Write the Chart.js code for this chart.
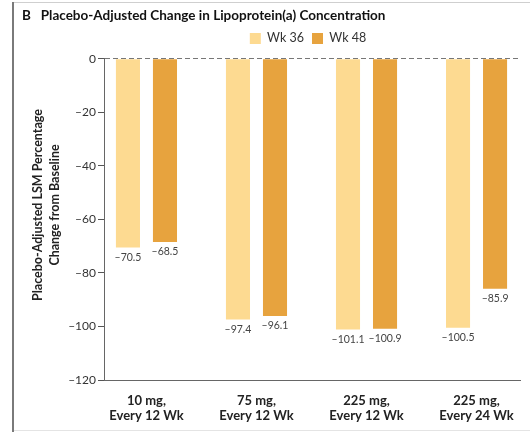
<!DOCTYPE html>
<html>
<head>
<meta charset="utf-8">
<script src="https://cdn.jsdelivr.net/npm/chart.js@4/dist/chart.umd.min.js"></script>
<style>
html,body{margin:0;padding:0;background:#fff;}
#wrap{width:530px;height:432px;position:relative;}
</style>
</head>
<body>
<div id="wrap"><canvas id="c" width="530" height="432"></canvas></div>
<script>
const categories = [
  ['10 mg,', 'Every 12 Wk'],
  ['75 mg,', 'Every 12 Wk'],
  ['225 mg,', 'Every 12 Wk'],
  ['225 mg,', 'Every 24 Wk']
];
const seriesNames = ['Wk 36', 'Wk 48'];
const wk36 = [-70.5, -97.4, -101.1, -100.5];
const wk48 = [-68.5, -96.1, -100.9, -85.9];
const yTickValues = [0, -20, -40, -60, -80, -100, -120];
const titleText = 'B   Placebo-Adjusted Change in Lipoprotein(a) Concentration';
const yTitleLines = ['Placebo-Adjusted LSM Percentage', 'Change from Baseline'];

const FONT = 'Lato, "Open Sans", sans-serif';
const dash = v => (v < 0 ? '\u2013' : '') + Math.abs(v);

const framePlugin = {
  id: 'frame',
  beforeDraw(chart) {
    const ctx = chart.ctx;
    ctx.save();
    ctx.strokeStyle = '#cfcfcf';
    ctx.lineWidth = 1;
    ctx.beginPath(); ctx.moveTo(12, 2.5); ctx.lineTo(530, 2.5); ctx.stroke();
    ctx.strokeStyle = '#e4e4e4';
    ctx.beginPath(); ctx.moveTo(12, 430.5); ctx.lineTo(530, 430.5); ctx.stroke();
    ctx.strokeStyle = '#7a7a7a';
    ctx.lineWidth = 2;
    ctx.beginPath(); ctx.moveTo(13, 2); ctx.lineTo(13, 432); ctx.stroke();
    ctx.restore();
  }
};

const legendShift = {
  id: 'legendShift',
  afterLayout(chart) {
    const lg = chart.legend;
    if (!lg) return;
    lg.left = 96; lg.right = 520; lg.top -= 4; lg.bottom -= 4;
  }
};

const yTitlePlugin = {
  id: 'yTitle',
  afterDraw(chart) {
    const ctx = chart.ctx;
    ctx.save();
    ctx.font = 'bold 12.5px ' + FONT;
    ctx.fillStyle = '#222';
    ctx.textAlign = 'center';
    ctx.textBaseline = 'middle';
    const cy = 205;
    const xs = [38, 55];
    yTitleLines.forEach((t, i) => {
      ctx.save();
      ctx.translate(xs[i], cy);
      ctx.rotate(-Math.PI / 2);
      ctx.fillText(t, 0, 0);
      ctx.restore();
    });
    ctx.restore();
  }
};

const valueLabels = {
  id: 'valueLabels',
  afterDatasetsDraw(chart) {
    const ctx = chart.ctx;
    ctx.save();
    ctx.font = '10.5px ' + FONT;
    ctx.fillStyle = '#444';
    ctx.textAlign = 'center';
    ctx.textBaseline = 'middle';
    chart.data.datasets.forEach((ds, di) => {
      const meta = chart.getDatasetMeta(di);
      meta.data.forEach((el, i) => {
        const v = ds.data[i].y;
        ctx.fillText('\u2013' + Math.abs(v).toFixed(1), el.x, el.y + 10);
      });
    });
    ctx.restore();
  }
};

new Chart(document.getElementById('c'), {
  type: 'bar',
  data: {
    datasets: [
      {
        label: seriesNames[0],
        data: wk36.map((v, i) => ({x: i, y: v})),
        backgroundColor: '#FDDA91',
        borderWidth: 0
      },
      {
        label: seriesNames[1],
        data: wk48.map((v, i) => ({x: i, y: v})),
        backgroundColor: '#E7A33E',
        borderWidth: 0
      }
    ]
  },
  options: {
    responsive: false,
    animation: false,
    events: [],
    categoryPercentage: 0.673,
    barPercentage: 0.65,
    layout: {padding: {left: 22, right: 10, top: 0, bottom: 0}},
    scales: {
      x: {
        type: 'linear',
        offset: false,
        min: -0.386,
        max: 3.395,
        afterBuildTicks(scale) { scale.ticks = [0, 1, 2, 3].map(v => ({value: v})); },
        afterFit(scale) { scale.height = 52; },
        grid: {display: false, offset: false},
        border: {display: true, color: '#666', width: 1},
        ticks: {
          autoSkip: false,
          maxRotation: 0,
          padding: 5,
          color: '#222',
          font: {family: FONT, size: 13, weight: 'bold', lineHeight: 1.15},
          callback: v => categories[v]
        }
      },
      y: {
        min: -120,
        max: 0,
        afterBuildTicks(scale) { scale.ticks = yTickValues.map(v => ({value: v})); },
        afterFit(scale) { scale.width = 82; },
        grid: {
          drawOnChartArea: true,
          color: c => (c.tick && c.tick.value === 0) ? '#777' : 'rgba(0,0,0,0)',
          tickColor: '#555',
          tickLength: 6,
          tickBorderDash: [],
          lineWidth: 1
        },
        border: {display: true, color: '#666', width: 1, dash: [5, 3]},
        ticks: {
          padding: 2,
          color: '#333',
          font: {family: FONT, size: 12},
          callback: v => dash(v)
        }
      }
    },
    plugins: {
      title: {
        display: true,
        text: titleText,
        align: 'start',
        color: '#111',
        font: {family: FONT, size: 13.5, weight: 'bold', lineHeight: 1.2},
        padding: {top: 8, bottom: 4}
      },
      legend: {
        display: true,
        position: 'top',
        labels: {
          boxWidth: 11,
          boxHeight: 11,
          padding: 8,
          color: '#333',
          font: {family: FONT, size: 12.5}
        }
      },
      tooltip: {enabled: false}
    }
  },
  plugins: [framePlugin, legendShift, yTitlePlugin, valueLabels]
});
</script>
</body>
</html>
